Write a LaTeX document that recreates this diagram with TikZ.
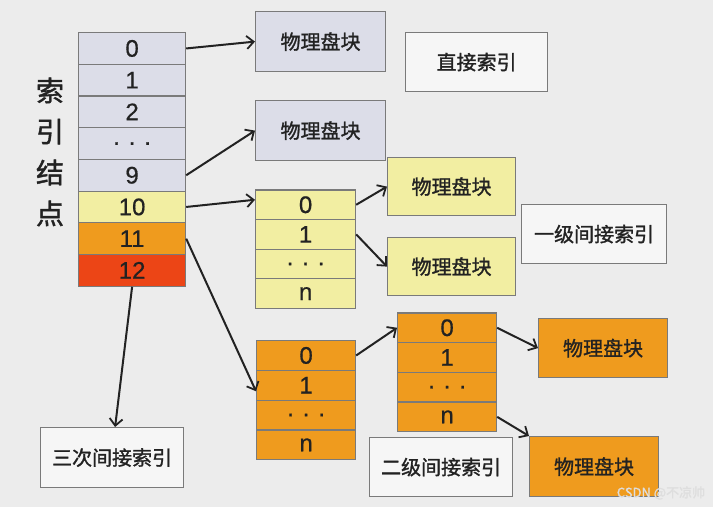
\documentclass[tikz,border=0pt]{standalone}
\usepackage{fontspec}
\setmainfont{Liberation Sans}[FakeBold=0.6]
\newfontfamily\cjk{Noto Sans CJK SC}[FakeBold=1.4]
\usetikzlibrary{arrows.meta}
\definecolor{ixBg}{HTML}{ECECEC}
\definecolor{ixGray}{HTML}{DCDDE8}
\definecolor{ixYellow}{HTML}{F2EEA2}
\definecolor{ixOrange}{HTML}{EF9B1E}
\definecolor{ixRed}{HTML}{EC4516}
\definecolor{ixLine}{HTML}{7A7A7A}
\definecolor{ixInk}{HTML}{222222}
\tikzset{
  cell/.style    ={draw=ixLine,line width=1.2pt,inner sep=0pt,anchor=north west,
                   text=ixInk,font=\fontsize{24}{24}\selectfont},
  maincell/.style={cell,minimum width=107pt,minimum height=31.7pt},
  subcell/.style ={cell,minimum width=99pt,minimum height=29.7pt},
  block/.style   ={draw=ixLine,line width=1.2pt,inner sep=0pt,anchor=north west,
                   text=ixInk,font=\cjk\fontsize{20}{20}\selectfont},
  diskblk/.style ={block,minimum width=129pt,minimum height=59pt},
  tag/.style     ={block,fill=white!55!ixBg,minimum width=143pt,minimum height=59pt},
  link/.style    ={-{Straight Barb[length=7pt,width=13pt,line width=1.8pt]},
                   ixInk,line width=2pt},
}
\begin{document}
\begin{tikzpicture}[x=1pt,y=-1pt]
\fill[ixBg] (0,0) rectangle (713,507);
\useasboundingbox (0,0) rectangle (713,507);

% index node
\foreach \t/\c [count=\i from 0] in {0/ixGray,1/ixGray,2/ixGray,{. . .}/ixGray,
    9/ixGray,10/ixYellow,11/ixOrange,12/ixRed}
  \node[maincell,fill=\c] (m\i) at (78,32+31.7*\i) {\t};
\node[text=ixInk,align=center,font=\cjk\fontsize{28}{41}\selectfont] (side) at (50,152)
  {索\\引\\结\\点};

% one-level and two-level index blocks
\foreach \t [count=\i from 0] in {0,1,{. . .},n}
  { \node[subcell,fill=ixYellow,minimum width=100pt] (a\i) at (255,189.3+29.6*\i) {\t};
    \node[subcell,fill=ixOrange] (b\i) at (256,340+29.8*\i) {\t};
    \node[subcell,fill=ixOrange] (c\i) at (397,312.3+29.7*\i) {\t}; }

% physical blocks
\node[diskblk,fill=ixGray,minimum width=130pt,minimum height=60pt] (p1) at (255,11) {物理盘块};
\node[diskblk,fill=ixGray,minimum width=130pt,minimum height=60pt] (p2) at (255,100) {物理盘块};
\node[diskblk,fill=ixYellow,minimum width=128pt,minimum height=58pt] (p3) at (387,157) {物理盘块};
\node[diskblk,fill=ixYellow,minimum width=128pt,minimum height=58pt] (p4) at (387,237) {物理盘块};
\node[diskblk,fill=ixOrange] (p5) at (538,318) {物理盘块};
\node[diskblk,fill=ixOrange,minimum height=60pt] (p6) at (529,436) {物理盘块};

\node[tag,minimum width=142pt] (t0) at (405,32) {直接索引};
\node[tag,minimum width=145pt] (t1) at (521,204) {一级间接索引};
\node[tag] (t2) at (369,437) {二级间接索引};
\node[tag,minimum height=60pt] (t3) at (40,427) {三次间接索引};

\draw[link] (m0.east) -- (p1.west);
\draw[link] (m4.east) -- (p2.west);
\draw[link] (m5.east) -- ([yshift=5pt]a0.west);
\draw[link] (m6.east) -- ([yshift=-6pt]b1.west);
\draw[link] (m7.south) -- ([xshift=3pt]t3.north);
\draw[link] (a0.east) -- (p3.west);
\draw[link] (a1.east) -- (p4.west);
\draw[link] (b0.east) -- (c0.west);
\draw[link] (c0.east) -- (p5.west);
\draw[link] (c3.east) -- (p6.north west);

\node[text=white!75!ixLine,font=\cjk\fontsize{13}{13}\selectfont] (mark) at (661,493)
  {CSDN @不凉帅};
\end{tikzpicture}
\end{document}
